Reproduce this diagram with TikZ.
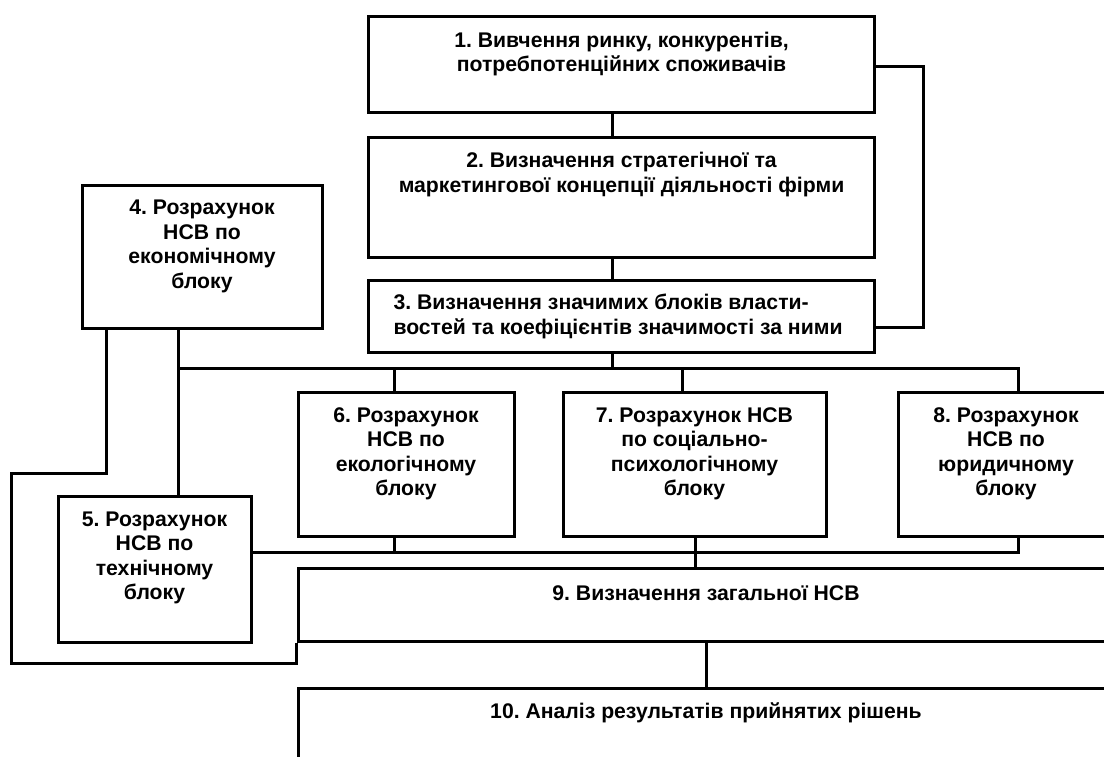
\documentclass[tikz,border=0pt]{standalone}
\usepackage{fontspec}
\setmainfont{Liberation Sans}
\frenchspacing

\begin{document}
\begin{tikzpicture}[x=1pt, y=-1pt, line width=3pt,
    blok/.style={draw, line width=3pt, inner sep=0pt},
    txt/.style={font=\bfseries\fontsize{21.2}{24.5}\selectfont, align=center, inner sep=0pt}]
      \clip (0,0) rectangle (1104,756);
      \fill[white] (0,0) rectangle (1104,756);

      % upper column
      \node[blok, minimum width=506, minimum height=96] (b1) at (621.5,64) {};
      \node[txt] (t1) at (621.5,54) {1. Вивчення ринку, конкурентів,\\потребпотенційних споживачів};
      \node[blok, minimum width=506, minimum height=120] (b2) at (621.5,197) {};
      \node[txt] (t2) at (621.5,174.5) {2. Визначення стратегічної та\\маркетингової концепції діяльності фірми};
      \node[blok, minimum width=506, minimum height=72] (b3) at (621.5,316) {};
      \node[txt, align=left, anchor=west] (t3) at (392,316.5) {3. Визначення значимих блоків власти-\\востей та коефіцієнтів значимості за ними};

      % blocks
      \node[blok, minimum width=240, minimum height=143] (b4) at (202,256.5) {};
      \node[txt] (t4) at (202,246.5) {4. Розрахунок\\НСВ по\\економічному\\блоку};
      \node[blok, minimum width=193, minimum height=146] (b5) at (154.5,569) {};
      \node[txt] (t5) at (154.5,558) {5. Розрахунок\\НСВ по\\технічному\\блоку};
      \node[blok, minimum width=216, minimum height=144] (b6) at (406,464) {};
      \node[txt] (t6) at (406,454) {6. Розрахунок\\НСВ по\\екологічному\\блоку};
      \node[blok, minimum width=263, minimum height=144] (b7) at (694.5,464) {};
      \node[txt] (t7) at (694.5,454) {7. Розрахунок НСВ\\по соціально-\\психологічному\\блоку};
      \node[blok, minimum width=216, minimum height=144] (b8) at (1006,464) {};
      \node[txt] (t8) at (1006,454) {8. Розрахунок\\НСВ по\\юридичному\\блоку};

      % result
      \node[blok, minimum width=816, minimum height=73] (b9) at (706,604.5) {};
      \node[txt] (t9) at (706,593) {9. Визначення загальної НСВ};
      \node[blok, minimum width=816, minimum height=77] (b10) at (706,726.5) {};
      \node[txt] (t10) at (706,713) {10. Аналіз результатів прийнятих рішень};

      \coordinate (x12) at (612,0);
      \coordinate (x45) at (178,0);
      \coordinate (x6) at (394,0);
      \coordinate (x7) at (682,0);
      \coordinate (x79) at (695,0);
      \coordinate (x8) at (1018,0);
      \coordinate (bus) at (0,368);
      \coordinate (bus2) at (0,552);
      \coordinate (fb) at (923,327);
      \coordinate (lp1) at (106,473);
      \coordinate (lp2) at (11,663);

      \draw (b1.south -| x12) -- (b2.north -| x12);
      \draw (b2.south -| x12) -- (b3.north -| x12);
      \draw ([yshift=-2pt]b1.east) -| (fb) -- (fb -| b3.east);

      \draw (b3.south -| x12) -- (bus -| x12);
      \draw (bus -| x45) -- (bus -| x8) -- (b8.north -| x8);
      \draw (b4.south -| x45) -- (b5.north -| x45);
      \draw (bus -| x6) -- (b6.north -| x6);
      \draw (bus -| x7) -- (b7.north -| x7);

      \draw (b5.east |- bus2) -- (bus2 -| x8) -- (b8.south -| x8);
      \draw (bus2 -| x6) -- (b6.south -| x6);
      \draw (b7.south -| x79) -- (b9.north -| x79);
      \draw (b9.south) -- (b10.north);

      \draw (b4.south -| lp1) -- (lp1) -| (lp2) -| (b9.south west);
\end{tikzpicture}
\end{document}
